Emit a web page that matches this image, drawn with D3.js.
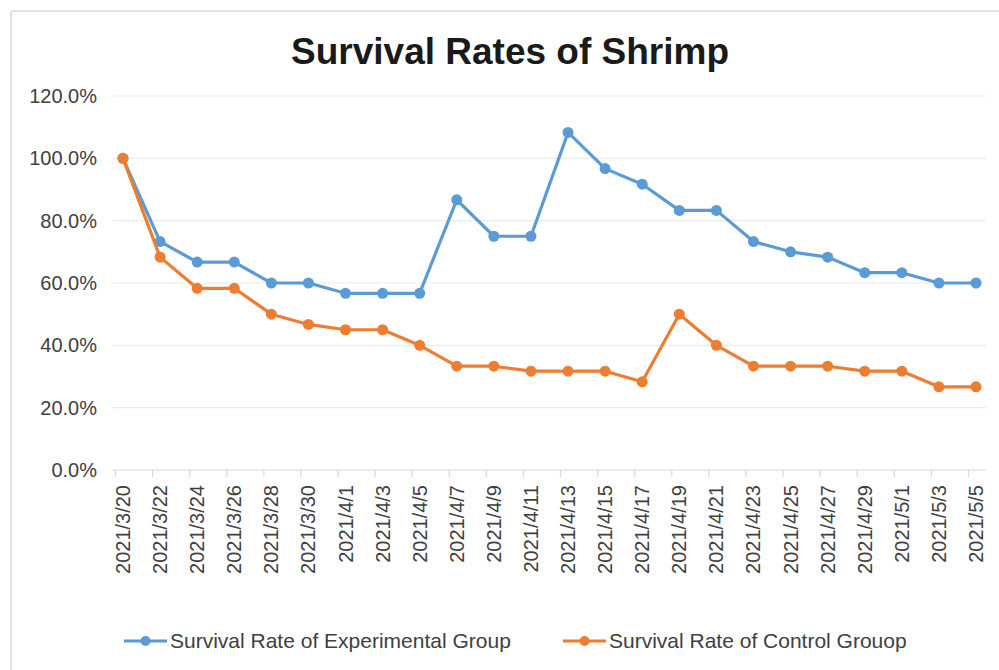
<!DOCTYPE html>
<html>
<head>
<meta charset="utf-8">
<script src="https://cdn.jsdelivr.net/npm/d3@7"></script>
<style>
  html, body { margin: 0; padding: 0; background: #fff; }
  svg { display: block; font-family: "Liberation Sans", Arial, sans-serif; }
</style>
</head>
<body>
<div id="chart"></div>
<script>
// Dates on the category axis
const dates = [
  "2021/3/20", "2021/3/22", "2021/3/24", "2021/3/26", "2021/3/28", "2021/3/30",
  "2021/4/1", "2021/4/3", "2021/4/5", "2021/4/7", "2021/4/9", "2021/4/11",
  "2021/4/13", "2021/4/15", "2021/4/17", "2021/4/19", "2021/4/21", "2021/4/23",
  "2021/4/25", "2021/4/27", "2021/4/29", "2021/5/1", "2021/5/3", "2021/5/5"
];

// Survival rates, in percent
const experimental = [
  100, 73.3, 66.7, 66.7, 60, 60, 56.7, 56.7, 56.7, 86.7, 75, 75,
  108.3, 96.7, 91.7, 83.3, 83.3, 73.3, 70, 68.3, 63.3, 63.3, 60, 60
];
const control = [
  100, 68.3, 58.3, 58.3, 50, 46.7, 45, 45, 40, 33.3, 33.3, 31.7,
  31.7, 31.7, 28.3, 50, 40, 33.3, 33.3, 33.3, 31.7, 31.7, 26.7, 26.7
];

const yTicks = [0, 20, 40, 60, 80, 100, 120];

const seriesNames = ["Survival Rate of Experimental Group", "Survival Rate of Control Grouop"];
const seriesColors = ["#5b9bd5", "#ed7d31"];

const width = 999, height = 670;

const svg = d3.select("#chart")
  .append("svg")
  .attr("width", width)
  .attr("height", height);

// chart frame
svg.append("rect")
  .attr("x", 11).attr("y", 11)
  .attr("width", width + 20).attr("height", height + 20)
  .attr("rx", 3)
  .attr("fill", "#fff")
  .attr("stroke", "#d9d9d9")
  .attr("stroke-width", 1.5);

const plot = { left: 113, right: 986, top: 96, bottom: 470 };

const x = d3.scalePoint()
  .domain(dates)
  .range([123, 976]);

const y = d3.scaleLinear()
  .domain([0, 120])
  .range([plot.bottom, plot.top]);

// title
svg.append("text")
  .attr("x", 510)
  .attr("y", 64)
  .attr("text-anchor", "middle")
  .style("font-size", "37px")
  .style("font-weight", "bold")
  .attr("fill", "#1a1a1a")
  .text("Survival Rates of Shrimp");

// gridlines
svg.append("g")
  .selectAll("line")
  .data(yTicks)
  .join("line")
  .attr("x1", plot.left)
  .attr("x2", plot.right)
  .attr("y1", d => y(d))
  .attr("y2", d => y(d))
  .attr("stroke", d => d === 0 ? "#d9d9d9" : "#ebebeb")
  .attr("stroke-width", 1.2);

// y labels
svg.append("g")
  .selectAll("text")
  .data(yTicks)
  .join("text")
  .attr("x", 97)
  .attr("y", d => y(d))
  .attr("dy", "0.35em")
  .attr("text-anchor", "end")
  .style("font-size", "20px")
  .attr("fill", "#404040")
  .text(d => d.toFixed(1) + "%");

// x ticks (sit a little left of the points, as in the source)
const xAxis = svg.append("g")
  .attr("transform", `translate(-8,${plot.bottom})`)
  .call(d3.axisBottom(x).tickSize(7).tickFormat(""));
xAxis.select(".domain").remove();
xAxis.selectAll(".tick line").attr("stroke", "#d9d9d9").attr("stroke-width", 1.2);

// x labels, rotated
svg.append("g")
  .selectAll("text")
  .data(dates)
  .join("text")
  .attr("transform", d => `translate(${x(d)},485) rotate(-90)`)
  .attr("dy", "0.35em")
  .attr("text-anchor", "end")
  .style("font-size", "20px")
  .attr("fill", "#404040")
  .text(d => d);

// series
const series = [experimental, control];
const line = d3.line()
  .x((d, i) => x(dates[i]))
  .y(d => y(d));

series.forEach((values, s) => {
  const g = svg.append("g");
  g.append("path")
    .datum(values)
    .attr("d", line)
    .attr("fill", "none")
    .attr("stroke", seriesColors[s])
    .attr("stroke-width", 3.2)
    .attr("stroke-linejoin", "round");
  g.selectAll("circle")
    .data(values)
    .join("circle")
    .attr("cx", (d, i) => x(dates[i]))
    .attr("cy", d => y(d))
    .attr("r", 5.5)
    .attr("fill", seriesColors[s]);
});

// legend
const legendX = [124, 563];
const legend = svg.append("g");
seriesNames.forEach((name, s) => {
  const lg = legend.append("g").attr("transform", `translate(${legendX[s]},641)`);
  lg.append("line")
    .attr("x1", 0).attr("x2", 43)
    .attr("stroke", seriesColors[s])
    .attr("stroke-width", 3.2);
  lg.append("circle")
    .attr("cx", 21.5)
    .attr("r", 5)
    .attr("fill", seriesColors[s]);
  lg.append("text")
    .attr("x", 46)
    .attr("dy", "0.35em")
    .style("font-size", "21px")
    .attr("fill", "#404040")
    .text(name);
});
</script>
</body>
</html>
